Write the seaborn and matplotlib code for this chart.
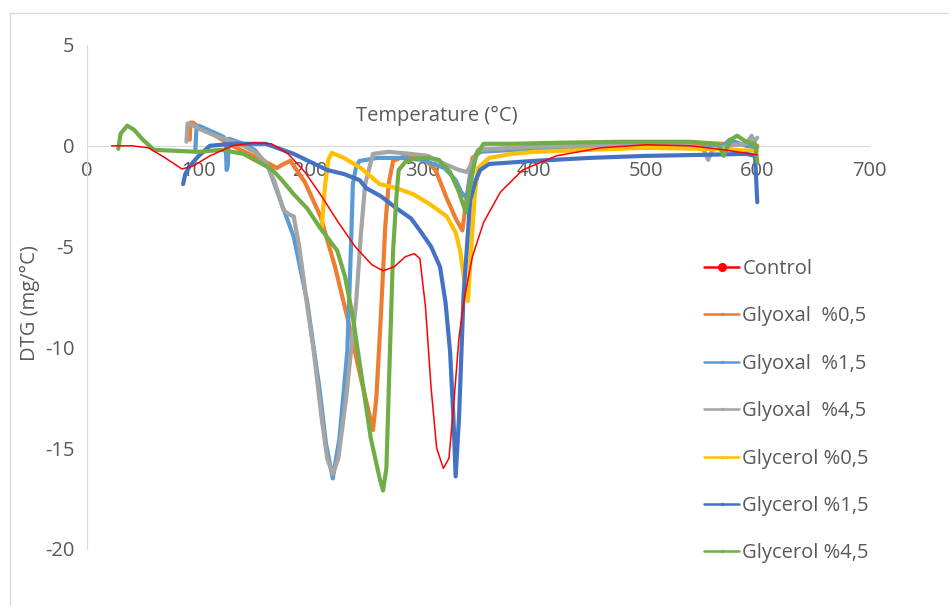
import numpy as np
import pandas as pd
import matplotlib
matplotlib.use("Agg")
import matplotlib.pyplot as plt
from matplotlib.lines import Line2D
from matplotlib.patches import Rectangle
import seaborn as sns

# DTG curves (T in °C, DTG in mg/°C)
control_t = [22, 40, 55, 70, 85, 95, 110, 130, 150, 165, 180, 195, 210, 225, 240, 255, 265, 275,
             285, 293, 298, 303, 308, 313, 319, 324, 328, 333, 338, 345, 355, 370, 390, 420, 460,
             500, 540, 570, 600]
control_v = [0, 0, -0.1, -0.6, -1.15, -1.0, -0.5, 0, 0.15, 0.1, -0.4, -1.3, -2.5, -3.8, -5.0, -5.9,
             -6.2, -6.0, -5.5, -5.35, -5.6, -8, -12, -15, -16.0, -15.5, -13, -9.5, -7.5, -5.5, -3.8,
             -2.3, -1.2, -0.5, -0.1, 0.05, 0, -0.2, -0.45]

glyoxal05_t = [92, 92.5, 95, 100, 115, 130, 145, 160, 170, 176, 182, 195, 209, 222, 233, 245, 256,
               259, 263, 267, 270, 274, 285, 300, 312, 322, 330, 336, 340, 345, 355, 400, 450, 500,
               550, 580, 600]
glyoxal05_v = [0.3, 1.15, 1.15, 0.9, 0.5, 0, -0.4, -0.8, -1.1, -0.9, -0.75, -1.8, -3.5, -6.0, -8.5,
               -11.5, -14.1, -12.5, -8.5, -4.0, -1.9, -0.75, -0.5, -0.55, -1.2, -2.6, -3.6, -4.2,
               -2.5, -0.6, -0.2, -0.05, 0.05, 0.1, 0.1, 0.1, 0.0]

glyoxal15_t = [97, 98, 100, 110, 122, 124, 125, 126, 127, 140, 150, 162, 173, 185, 197, 208, 214,
               220, 226, 233, 236, 238, 241, 244, 260, 280, 300, 320, 330, 335, 340, 345, 350, 400,
               450, 500, 550, 570, 575, 590, 600]
glyoxal15_v = [-0.2, 0.9, 1.0, 0.75, 0.45, 0.3, -1.2, -1.0, 0.35, 0.1, -0.2, -1.0, -2.7, -4.5, -7.7,
               -12.0, -14.8, -16.5, -14.5, -10.2, -5.5, -1.9, -1.0, -0.75, -0.6, -0.6, -0.7, -1.1,
               -1.7, -2.3, -2.6, -1.0, -0.3, -0.15, -0.1, -0.1, -0.1, 0.0, 0.3, 0.0, -0.1]

glyoxal45_t = [89, 90, 92, 100, 115, 130, 140, 150, 160, 168, 176, 181, 185, 190, 196, 203, 210,
               215, 220, 225, 232, 241, 245, 249, 256, 270, 290, 305, 320, 333, 340, 345, 350, 400,
               450, 500, 540, 552, 556, 560, 575, 590, 595, 597, 600]
glyoxal45_v = [0.2, 1.1, 1.1, 0.85, 0.5, 0.2, 0, -0.3, -0.8, -1.8, -3.2, -3.4, -3.5, -5.0, -7.5,
               -10.2, -13.5, -15.5, -16.3, -15.5, -12.5, -7.7, -4.5, -1.9, -0.4, -0.3, -0.4, -0.5,
               -0.9, -1.2, -1.3, -0.8, -0.2, -0.05, 0, 0.05, 0.0, -0.2, -0.7, -0.2, 0.0, 0.1, 0.5,
               0.2, 0.4]

glycerol05_t = [210, 213, 216, 219, 230, 245, 262, 277, 292, 307, 322, 330, 334, 338, 341, 344, 347,
                350, 360, 380, 400, 450, 500, 550, 600]
glycerol05_v = [-4.1, -2.0, -0.7, -0.35, -0.6, -1.1, -1.9, -2.1, -2.4, -2.9, -3.5, -4.3, -5.2, -6.8,
                -7.7, -5.0, -2.5, -1.1, -0.6, -0.4, -0.3, -0.2, -0.1, -0.15, -0.25]

glycerol15_t = [86, 88, 92, 100, 110, 130, 160, 185, 200, 215, 230, 244, 250, 263, 277, 290, 298,
                308, 316, 321, 325, 328, 330, 333, 337, 343, 348, 352, 360, 400, 450, 500, 550, 590,
                598, 600]
glycerol15_v = [-1.9, -1.4, -1.0, -0.5, 0, 0.1, 0.1, -0.4, -0.8, -1.2, -1.4, -1.7, -2.1, -2.5, -3.1,
                -3.6, -4.2, -5.0, -6.0, -7.8, -10.2, -13.5, -16.4, -13.5, -7.5, -2.7, -1.7, -1.2,
                -0.9, -0.75, -0.6, -0.5, -0.45, -0.4, -0.5, -2.8]

glycerol45_t = [28, 30, 36, 42, 50, 60, 80, 100, 120, 140, 150, 160, 167, 176, 185, 197, 209, 224,
                231, 238, 246, 254, 262, 265, 268, 271, 274, 277, 279, 285, 292, 305, 315, 325, 333,
                339, 343, 348, 355, 380, 420, 480, 540, 565, 570, 576, 582, 590, 598, 600]
glycerol45_v = [-0.15, 0.6, 1.0, 0.8, 0.3, -0.2, -0.25, -0.3, -0.2, -0.4, -0.7, -1.0, -1.25, -1.8,
                -2.4, -3.1, -4.1, -5.2, -6.5, -8.5, -11.5, -14.5, -16.5, -17.1, -16.0, -10.5, -5.2,
                -2.5, -1.2, -0.8, -0.65, -0.6, -0.7, -1.3, -2.3, -3.3, -2.0, -0.5, 0.1, 0.1, 0.15,
                0.2, 0.2, 0.1, -0.5, 0.3, 0.5, 0.2, 0.1, -0.8]

series = [
    ("Control", control_t, control_v, "#FF0000"),
    ("Glyoxal  %0,5", glyoxal05_t, glyoxal05_v, "#ED7D31"),
    ("Glyoxal  %1,5", glyoxal15_t, glyoxal15_v, "#5B9BD5"),
    ("Glyoxal  %4,5", glyoxal45_t, glyoxal45_v, "#A5A5A5"),
    ("Glycerol %0,5", glycerol05_t, glycerol05_v, "#FFC000"),
    ("Glycerol %1,5", glycerol15_t, glycerol15_v, "#4472C4"),
    ("Glycerol %4,5", glycerol45_t, glycerol45_v, "#70AD47"),
]

sns.set_style("white")
plt.rcParams["font.family"] = ["Open Sans", "DejaVu Sans"]
plt.rcParams["axes.unicode_minus"] = False
txt = "#595959"
grid = "#D9D9D9"
fs = 14.5

fig = plt.figure(figsize=(9.49, 6.06), dpi=100)
ax = fig.add_axes([87 / 949, 1 - 549 / 606, (869 - 87) / 949, (549 - 45) / 606])

# thick series first, control drawn on top
for name, t, v, col in series[1:] + series[:1]:
    df = pd.DataFrame({"T": t, "DTG": v})
    lw = 1.1 if name == "Control" else 3.0
    z = 5 if name == "Control" else 3
    sns.lineplot(data=df, x="T", y="DTG", ax=ax, color=col, lw=lw, sort=False,
                 estimator=None, zorder=z, legend=False)

ax.set_xlim(0, 700)
ax.set_ylim(-20, 5)
ax.set_xticks(np.arange(0, 701, 100))
ax.set_yticks(np.arange(-20, 6, 5))
ax.set_xlabel("")
ax.set_ylabel("")
for s in ["top", "right"]:
    ax.spines[s].set_visible(False)
ax.spines["bottom"].set_position(("data", 0))
ax.spines["bottom"].set_color(grid)
ax.spines["left"].set_color(grid)
ax.spines["bottom"].set_zorder(1)
ax.tick_params(axis="x", length=0, pad=11, labelsize=fs, labelcolor=txt)
ax.tick_params(axis="y", length=0, pad=9, labelsize=fs, labelcolor=txt)

fig.text(437 / 949, 1 - 116 / 606, "Temperature (°C)", ha="center", va="center",
         fontsize=fs, color=txt)
fig.text(30 / 949, 1 - 303 / 606, "DTG (mg/°C)", ha="center", va="center",
         rotation=90, fontsize=fs, color=txt)

handles = []
for name, t, v, col in series:
    ms = 5.5 if name == "Control" else 1.5
    handles.append(Line2D([], [], color=col, lw=1.8, marker="o", ms=ms))
fig.legend(handles, [s[0] for s in series], loc="upper left",
           bbox_to_anchor=(704 / 949, 1 - 259 / 606), frameon=False, fontsize=fs,
           labelcolor=txt, handlelength=1.75, handletextpad=0.15, labelspacing=1.36,
           borderaxespad=0, borderpad=0)

fig.add_artist(Rectangle((10 / 949, -0.01), 1.0, 1 - 13 / 606 + 0.01,
                         transform=fig.transFigure, fill=False, ec=grid, lw=1))

fig.savefig("out.png", dpi=100)
